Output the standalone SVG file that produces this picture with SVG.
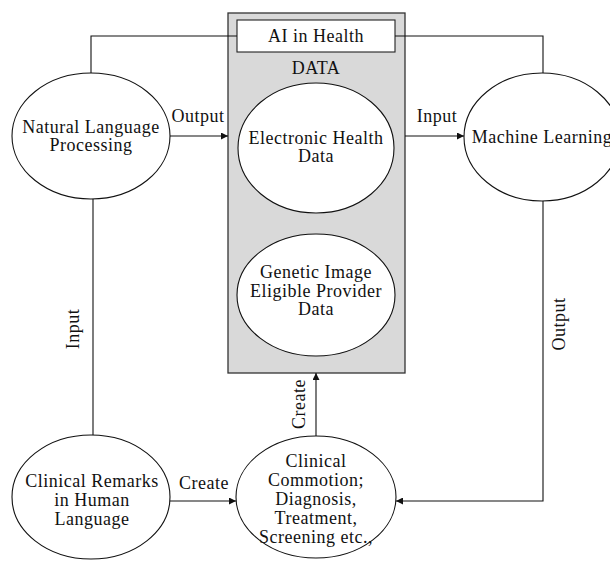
<svg xmlns="http://www.w3.org/2000/svg" width="610" height="561" viewBox="0 0 610 561">
<style>
text{font-family:"Liberation Serif","Times New Roman",serif;font-size:18px;letter-spacing:0.5px;fill:#111;text-anchor:middle}
.node ellipse{fill:#fff;stroke:#111;stroke-width:1.1}
.conn{fill:none;stroke:#111;stroke-width:1.1}
.arr{marker-end:url(#ah)}
</style>
<defs>
<marker id="ah" viewBox="0 0 10 10" refX="10" refY="5" markerWidth="9" markerHeight="7" markerUnits="userSpaceOnUse" orient="auto">
<path d="M0,0 L10,5 L0,10 z" fill="#111"/>
</marker>
</defs>
<rect width="610" height="561" fill="#fff"/>
<g id="data-box">
<rect x="228" y="13" width="177" height="360" fill="#d9d9d9" stroke="#333" stroke-width="1.3"/>
<rect x="237" y="20" width="158" height="32" fill="#fff" stroke="#222" stroke-width="1.1"/>
<text x="316" y="42">AI in Health</text>
<text x="316" y="74">DATA</text>
</g>
<g id="ehd" class="node">
<ellipse cx="316" cy="148" rx="78" ry="65"/>
<text x="316" y="144">Electronic Health</text>
<text x="316" y="162">Data</text>
</g>
<g id="genetic" class="node">
<ellipse cx="316" cy="295" rx="79" ry="61"/>
<text x="316" y="278">Genetic Image</text>
<text x="316" y="297">Eligible Provider</text>
<text x="316" y="315">Data</text>
</g>
<g id="nlp" class="node">
<ellipse cx="91" cy="136" rx="79" ry="63"/>
<text x="91" y="133">Natural Language</text>
<text x="91" y="151">Processing</text>
</g>
<g id="ml" class="node">
<ellipse cx="542" cy="137" rx="78" ry="64"/>
<text x="542" y="143">Machine Learning</text>
</g>
<g id="remarks" class="node">
<ellipse cx="91" cy="497" rx="79" ry="62"/>
<text x="92" y="487">Clinical Remarks</text>
<text x="92" y="506">in Human</text>
<text x="92" y="525">Language</text>
</g>
<g id="commotion" class="node">
<ellipse cx="316" cy="497" rx="80" ry="61"/>
<text x="316" y="467">Clinical</text>
<text x="316" y="486">Commotion;</text>
<text x="316" y="505">Diagnosis,</text>
<text x="316" y="524">Treatment,</text>
<text x="316" y="543">Screening etc.,</text>
</g>
<g id="connectors">
<polyline class="conn" points="91,73 91,36 237,36"/>
<polyline class="conn" points="395,36 543,36 543,73"/>
<line class="conn arr" x1="170" y1="136" x2="228" y2="136"/>
<text x="198" y="122">Output</text>
<line class="conn arr" x1="405" y1="136" x2="464" y2="136"/>
<text x="437" y="122">Input</text>
<line class="conn" x1="93" y1="199" x2="93" y2="435"/>
<text transform="translate(79,329) rotate(-90)">Input</text>
<polyline class="conn arr" points="543,201 543,501 396,501"/>
<text transform="translate(565,324) rotate(-90)">Output</text>
<line class="conn arr" x1="170" y1="501" x2="236" y2="501"/>
<text x="204" y="489">Create</text>
<line class="conn arr" x1="316" y1="436" x2="316" y2="373"/>
<text transform="translate(305,404) rotate(-90)">Create</text>
</g>
</svg>
